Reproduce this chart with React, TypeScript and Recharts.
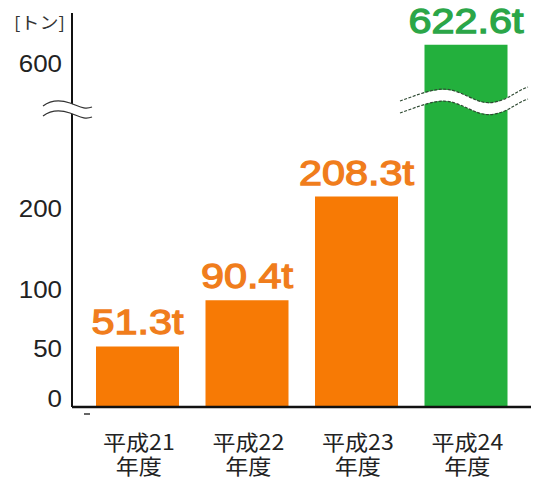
import React from 'react'
import { BarChart, Bar, XAxis, YAxis, Cell, LabelList } from 'recharts'

// fiscal years (Heisei era) and collected amount in tonnes
const YEARS = ['平成21', '平成22', '平成23', '平成24']
const TONNES = [51.3, 90.4, 208.3, 622.6]
const Y_TICKS = [0, 50, 100, 200, 600]

const ORANGE = '#f77a05'
const ORANGE_TEXT = '#f07d1c'
const GREEN = '#23b03d'
const GREEN_TEXT = '#2ba648'
const BAR_COLORS = [ORANGE, ORANGE, ORANGE, GREEN]
const LABEL_COLORS = [ORANGE_TEXT, ORANGE_TEXT, ORANGE_TEXT, GREEN_TEXT]

// the axis is broken between 200 and 600, so it is not linear
const KNOTS = [0, 100, 230, 600, 662]
const STOPS = [0, 0.2995, 0.5812, 0.8731, 1]

function toFrac(v: number) {
  if (v <= KNOTS[0]) return STOPS[0]
  for (let i = 1; i < KNOTS.length; i++) {
    if (v <= KNOTS[i]) {
      const t = (v - KNOTS[i - 1]) / (KNOTS[i] - KNOTS[i - 1])
      return STOPS[i - 1] + t * (STOPS[i] - STOPS[i - 1])
    }
  }
  return 1
}

function fromFrac(f: number) {
  for (let i = 1; i < STOPS.length; i++) {
    if (f <= STOPS[i]) {
      const t = (f - STOPS[i - 1]) / (STOPS[i] - STOPS[i - 1])
      return KNOTS[i - 1] + t * (KNOTS[i] - KNOTS[i - 1])
    }
  }
  return KNOTS[KNOTS.length - 1]
}

function brokenScale(): any {
  let dom = [KNOTS[0], KNOTS[KNOTS.length - 1]]
  let rng = [0, 1]
  const s: any = (v: number) => rng[0] + toFrac(v) * (rng[1] - rng[0])
  s.domain = (d?: number[]) => {
    if (d === undefined) return dom.slice()
    dom = Array.from(d)
    return s
  }
  s.range = (r?: number[]) => {
    if (r === undefined) return rng.slice()
    rng = Array.from(r)
    return s
  }
  s.copy = () => brokenScale().domain(dom).range(rng)
  s.ticks = () => Y_TICKS
  s.invert = (px: number) => fromFrac((px - rng[0]) / (rng[1] - rng[0]))
  s.clamp = () => s
  return s
}

const data = YEARS.map((year, i) => ({ year, value: TONNES[i] }))

const YTick = (props: any) => {
  const { y, payload } = props
  const nudge = payload.value === 0 ? -9 : payload.value === 200 ? 5 : 0
  return (
    <text x={62} y={y + nudge} dy="0.36em" textAnchor="end" fontSize={24}
      fontFamily="'Liberation Sans', Arial, sans-serif" fill="#222"
      transform={`translate(62,0) scale(1.08,1) translate(-62,0)`}>
      {payload.value}
    </text>
  )
}

const XTick = (props: any) => {
  const { x, y, payload } = props
  return (
    <text x={x + 1} y={y + 43} fontFamily="'Noto Sans CJK JP', sans-serif" fontSize={21}
      fill="#222" textAnchor="middle"
      transform={`translate(${x},0) scale(1.1,1) translate(${-x},0)`}>
      <tspan x={x + 1}>{payload.value}</tspan>
      <tspan x={x + 1} dy={24}>年度</tspan>
    </text>
  )
}

const ValueLabel = (props: any) => {
  const { x, y, width, value, index } = props
  const c = LABEL_COLORS[index]
  const cx = x + width / 2
  return (
    <text x={cx} y={y - 12} textAnchor="middle" fontSize={36}
      fontFamily="'Liberation Sans', Arial, sans-serif" fill={c} stroke={c} strokeWidth={1.3}
      transform={`translate(${cx},0) scale(1.15,1) translate(${-cx},0)`}>
      {value}t
    </text>
  )
}

const Decorations = () => {
  const axisWave = 'M43,106 C51,100 61,100 70,103 S84,110 92,107'
  const barWave = 'M400,107 C418,101 438,91 455,97 S480,111 495,108 S514,98 528,93'
  return (
    <svg width={539} height={481} style={{ position: 'absolute', left: 0, top: 0, pointerEvents: 'none' }}>
      <text x={14} y={29} fontSize={17} fontFamily="'Noto Sans CJK JP', sans-serif" fill="#333"
        transform="translate(14,0) scale(1.12,1) translate(-14,0)">
        [トン]
      </text>
      <path d={axisWave} transform="translate(0,5)" fill="none" stroke="#fff" strokeWidth={9} />
      <path d={axisWave} fill="none" stroke="#333" strokeWidth={1.3} />
      <path d={axisWave} transform="translate(0,10)" fill="none" stroke="#333" strokeWidth={1.3} />
      <path d={barWave} fill="none" stroke="#fff" strokeWidth={11} />
      <path d={barWave} transform="translate(0,-6)" fill="none" stroke="#2f4a33" strokeWidth={1.2} strokeDasharray="3 1.5" />
      <path d={barWave} transform="translate(0,6)" fill="none" stroke="#2f4a33" strokeWidth={1.2} strokeDasharray="3 1.5" />
      <line x1={84} x2={90} y1={414} y2={414} stroke="#333" strokeWidth={1.5} />
    </svg>
  )
}

export default function App() {
  return (
    <div style={{ position: 'absolute', left: 0, top: 0, width: 539, height: 481, background: '#fff' }}>
      <BarChart width={539} height={481} data={data}
        margin={{ top: 13, right: 8, bottom: 14, left: 0 }}>
        <XAxis dataKey="year" height={60} padding={{ left: 11, right: 10 }}
          axisLine={{ stroke: '#111', strokeWidth: 2.5 }} tickLine={false}
          tickSize={0} tickMargin={0} tick={<XTick />} interval={0} />
        <YAxis type="number" width={72} domain={[0, 662]} scale={brokenScale()}
          ticks={Y_TICKS} interval={0} axisLine={{ stroke: '#111', strokeWidth: 2 }}
          tickLine={false} tick={<YTick />} allowDataOverflow />
        <Bar dataKey="value" barSize={83} isAnimationActive={false}>
          {data.map((d, i) => (
            <Cell key={d.year} fill={BAR_COLORS[i]} />
          ))}
          <LabelList dataKey="value" content={<ValueLabel />} />
        </Bar>
      </BarChart>
      <Decorations />
    </div>
  )
}
